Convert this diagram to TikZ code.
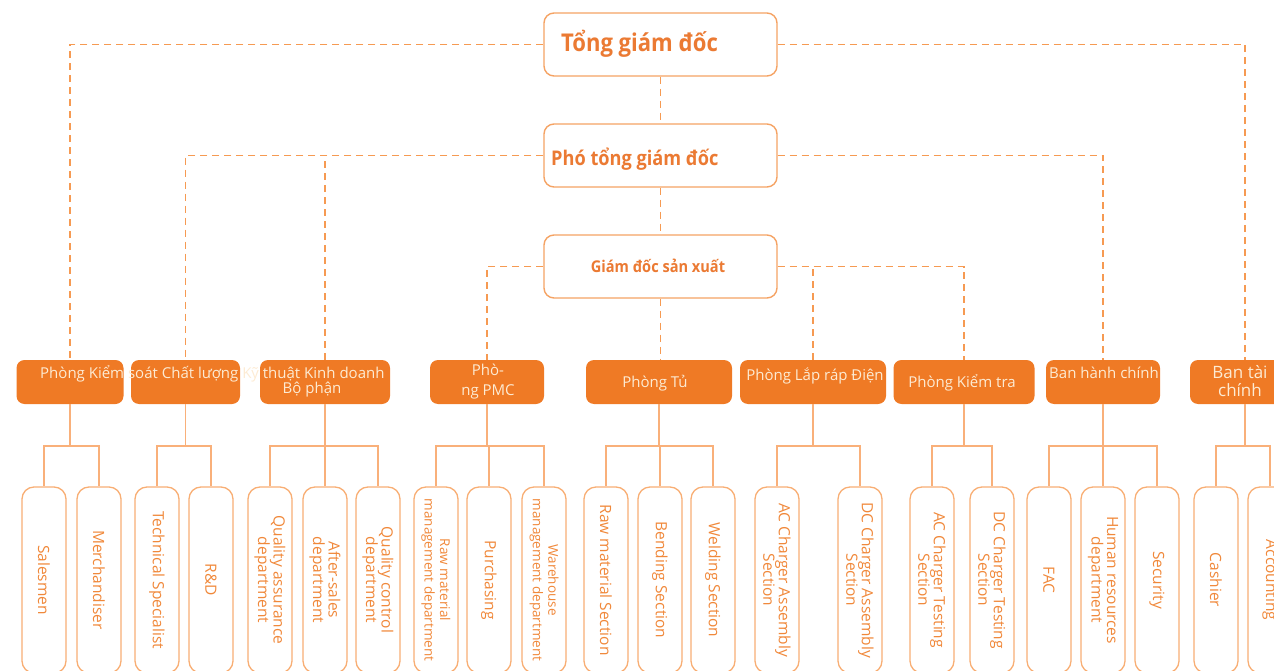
\documentclass[tikz,border=0pt]{standalone}
\usepackage{fontspec}
\setmainfont{Open Sans}
\newfontfamily\condfont{Open Sans}[FakeStretch=0.9]
\definecolor{topline}{HTML}{F5A364}
\definecolor{dashcol}{HTML}{F69A52}
\definecolor{deptfill}{HTML}{EF7A25}
\definecolor{depttext}{HTML}{FDEBD3}
\definecolor{leafline}{HTML}{F8AE74}
\definecolor{leaftext}{HTML}{F0883A}
\definecolor{conncol}{HTML}{F9B07A}
\definecolor{toptext}{HTML}{EB7A33}
\begin{document}
\begin{tikzpicture}[x=1pt,y=-1pt,
  topbox/.style={draw=topline, line width=1.4pt, fill=white, rounded corners=10pt, minimum width=233pt, minimum height=63pt, inner sep=0pt},
  toplabel/.style={text=toptext, inner sep=0pt},
  dept/.style={fill=deptfill, rounded corners=8pt, minimum height=44pt, inner sep=0pt},
  deptlabel/.style={text=depttext, inner sep=0pt, align=center, font=\fontsize{15}{20}\selectfont},
  leaf/.style={draw=leafline, line width=1.3pt, rounded corners=12pt, minimum width=44pt, minimum height=186pt, inner sep=0pt},
  leaflabel/.style={text=leaftext, rotate=-90, align=center, inner sep=0pt, font=\fontsize{15.5}{15.5}\selectfont},
  smallleaflabel/.style={leaflabel, font=\fontsize{13.5}{15.5}\selectfont},
  dashline/.style={draw=dashcol, line width=1.4pt, dash pattern=on 7pt off 5pt},
  conn/.style={draw=conncol, line width=1.3pt},
]
\useasboundingbox (0,0) rectangle (1274,671);
\clip (0,0) rectangle (1274,671);

% top boxes
\node[topbox] (tgd) at (660.5,44.5) {};
\node[toplabel, anchor=west, font=\condfont\bfseries\fontsize{24.5}{26}\selectfont] (tgdT) at (561,44) {Tổng giám đốc};
\node[topbox] (pgd) at (660.5,155.5) {};
\node[toplabel, anchor=west, font=\condfont\bfseries\fontsize{20.2}{22}\selectfont] (pgdT) at (551,159) {Phó tổng giám đốc};
\node[topbox] (gsx) at (660.5,266.5) {};
\node[toplabel, font=\condfont\bfseries\fontsize{16.2}{18}\selectfont] (gsxT) at (658,266) {Giám đốc sản xuất};

% departments
\node[dept, minimum width=107pt] (d1) at (70,382) {};
\node[dept, minimum width=109pt] (d2) at (185.5,382) {};
\node[dept, minimum width=130pt] (d3) at (325,382) {};
\node[dept, minimum width=114pt] (d4) at (487,382) {};
\node[dept, minimum width=146pt] (d5) at (659,382) {};
\node[dept, minimum width=146pt] (d6) at (813,382) {};
\node[dept, minimum width=141pt] (d7) at (964,382) {};
\node[dept, minimum width=114pt] (d8) at (1103,382) {};
\node[dept, minimum width=110pt] (d9) at (1245,382) {};

\node[deptlabel, anchor=west] (d1T) at (40,374) {Phòng Kiểm soát Chất lượng Kỹ thuật Kinh doanh};
\node[deptlabel] (d3T) at (312,390) {Bộ phận};
\node[deptlabel] (d4T) at (488,382) {Phò-\\ng PMC};
\node[deptlabel] (d5T) at (655,383) {Phòng Tủ};
\node[deptlabel] (d6T) at (815,376) {Phòng Lắp ráp Điện};
\node[deptlabel] (d7T) at (962,383) {Phòng Kiểm tra};
\node[deptlabel] (d8T) at (1104,373) {Ban hành chính};
\node[deptlabel, font=\fontsize{17}{18}\selectfont] (d9T) at (1240,381) {Ban tài\\chính};

% dashed reporting lines
\draw[dashline] (tgd.west) -| (d1.north);
\draw[dashline] (tgd.east) -| (d9.north);
\draw[dashline] (tgd.south) -- (pgd.north);
\draw[dashline] (pgd.west) -| (d2.north);
\draw[dashline] (d3.north) -- (d3.north |- pgd.west);
\draw[dashline] (pgd.east) -| (d8.north);
\draw[dashline] (pgd.south) -- (gsx.north);
\draw[dashline] (gsx.west) -| (d4.north);
\draw[dashline] (gsx.east) -| (d7.north);
\draw[dashline] (d6.north) -- (d6.north |- gsx.east);
\draw[dashline] (gsx.south) -- (gsx.south |- d5.north);

% leaves
\foreach \n/\x/\t in {
  l1/44/Salesmen, l2/99/Merchandiser, l3/157/Technical Specialist, l4/211/R\&D,
  l5/270/{Quality assurance\\department}, l6/325/{After-sales\\department}, l7/378/{Quality control\\department},
  l9/489/Purchasing,
  l11/606/Raw material Section, l12/660/Bending Section, l13/713/Welding Section,
  l14/777/{AC Charger Assembly\\Section}, l15/860/{DC Charger Assembly\\Section},
  l16/932/{AC Charger Testing\\Section}, l17/992/{DC Charger Testing\\Section},
  l18/1049/FAC, l19/1103/{Human resources\\department}, l20/1157/Security,
  l21/1216/Cashier, l22/1270/Accounting}{
  \node[leaf] (\n) at (\x,580) {};
  \node[leaflabel] (\n T) at (\n) {\t};
}
\node[leaf] (l8) at (436,580) {};
\node[smallleaflabel] (l8T) at (l8) {Raw material\\management department};
\node[leaf] (l10) at (544,580) {};
\node[smallleaflabel] (l10T) at (l10) {Warehouse\\management department};

% solid connectors
\coordinate (bar) at (0,446);
\foreach \d/\l in {d1/l1, d1/l2, d2/l3, d2/l4, d3/l5, d3/l6, d3/l7,
  d4/l8, d4/l9, d4/l10, d5/l11, d5/l12, d5/l13, d6/l14, d6/l15,
  d7/l16, d7/l17, d8/l18, d8/l19, d8/l20, d9/l21, d9/l22}{
  \draw[conn] (\d.south) -- (\d.south |- bar) -| (\l.north);
}
\end{tikzpicture}
\end{document}
